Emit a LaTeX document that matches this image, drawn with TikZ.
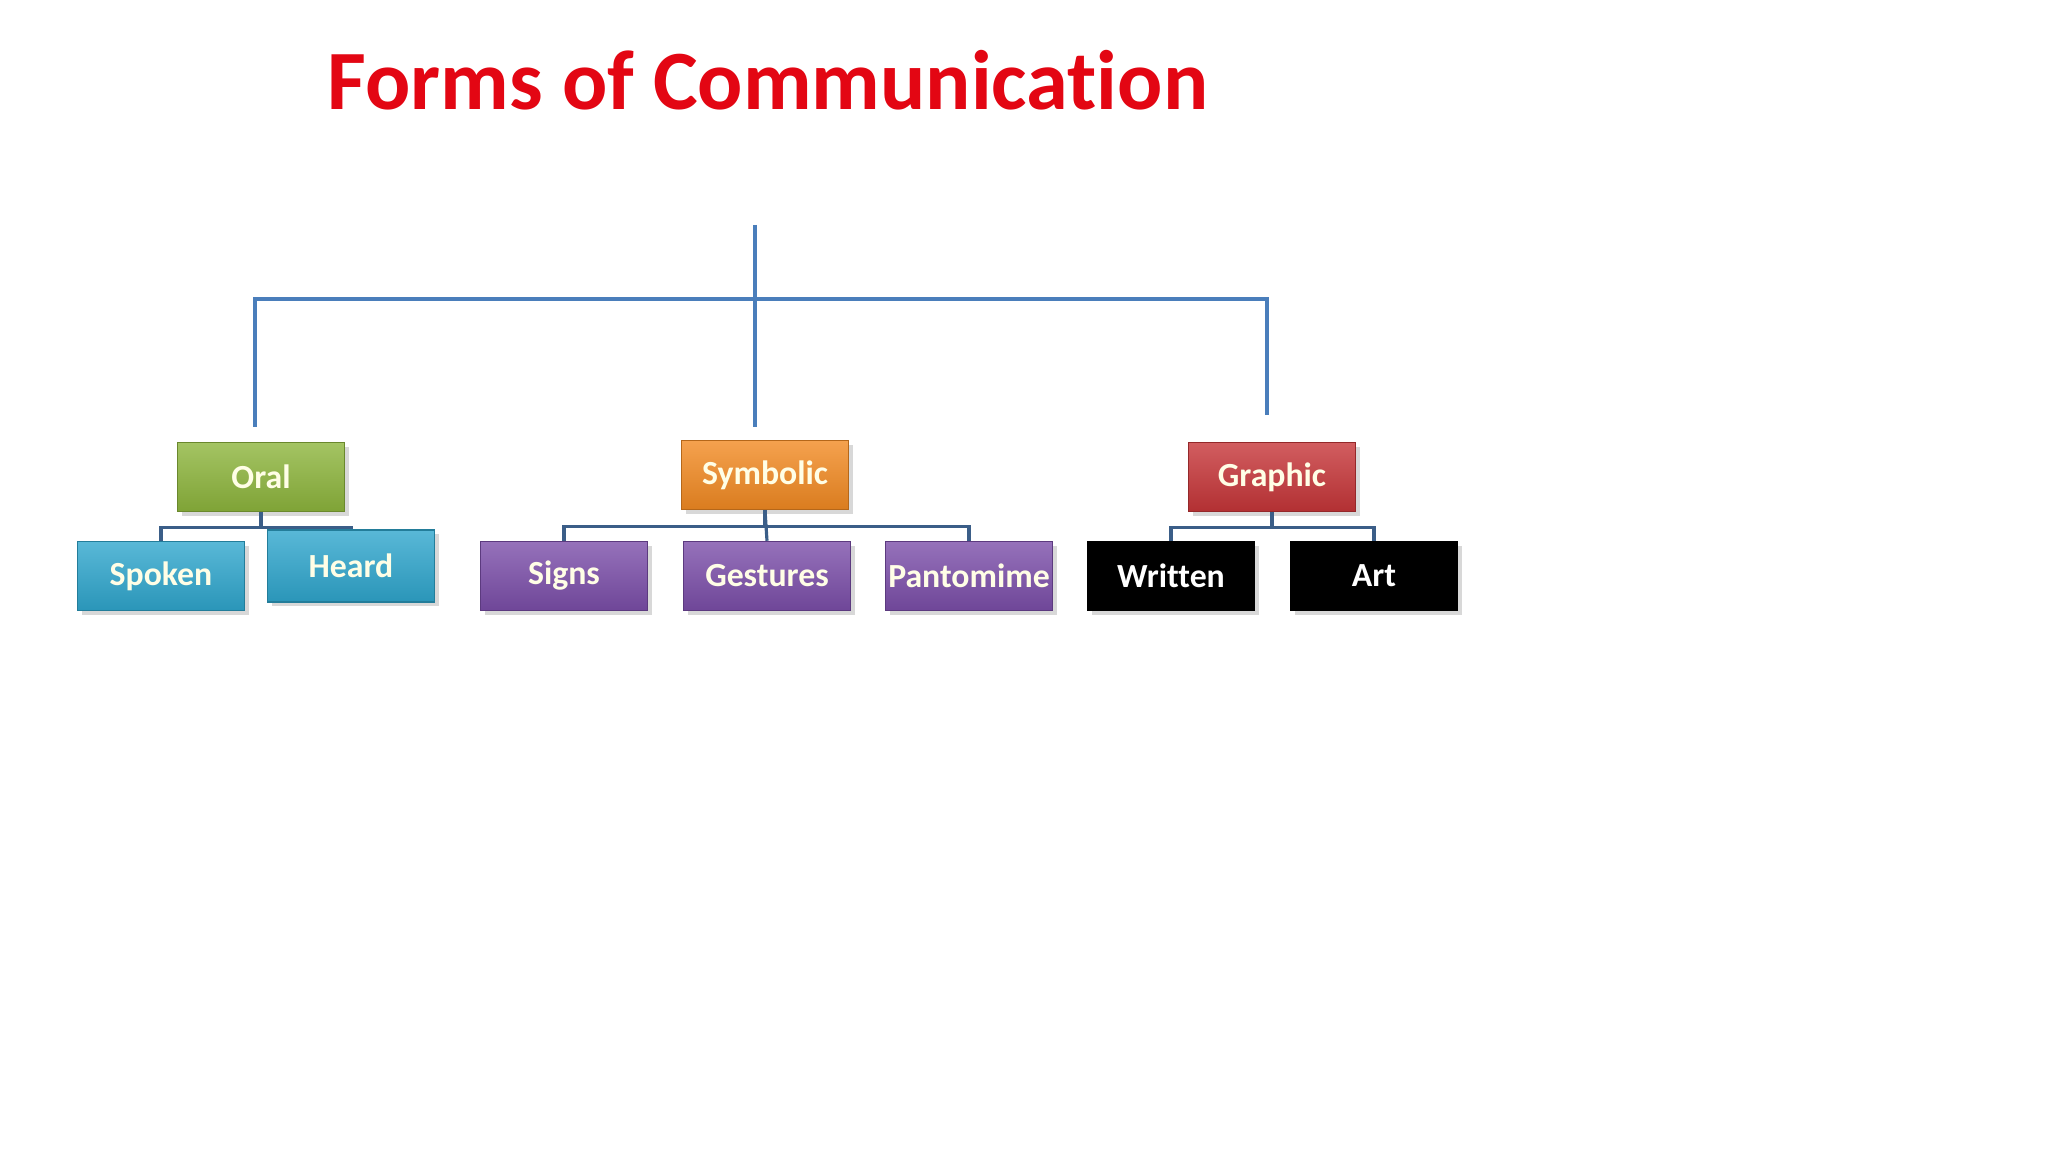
\documentclass[tikz,border=0pt]{standalone}
\usepackage{fontspec}
\setmainfont{Carlito}[Ligatures=NoCommon]
\usetikzlibrary{positioning,calc,shadows}
\definecolor{titlered}{HTML}{E30613}
\definecolor{trunkblue}{HTML}{4A7EBB}
\definecolor{twigblue}{HTML}{3B5E88}
\definecolor{oralgreen}{HTML}{8DB53C}
\definecolor{symorange}{HTML}{F28A22}
\definecolor{graphred}{HTML}{C63538}
\definecolor{heardcyan}{HTML}{2FA6CD}
\definecolor{signpurple}{HTML}{7B4EA9}
\begin{document}
\begin{tikzpicture}[x=0.01cm, y=-0.01cm, font=\bfseries,
  box/.style={minimum width=1.67cm, minimum height=0.69cm, inner sep=0pt, font=\fontsize{9.6}{12}\selectfont\bfseries, text=white!90!yellow,
    drop shadow={opacity=0.3, shadow xshift=1.2pt, shadow yshift=-1.2pt}},
  kind/.style={box, draw=#1!75!black, top color=#1!80!white, bottom color=#1!90!black},
  trunk/.style={draw=trunkblue, line width=1.3pt},
  twig/.style={draw=twigblue, line width=0.9pt}]
\useasboundingbox[fill=white] (0,0) rectangle (2048,1152);
% title
\node[text=titlered, font=\fontsize{24}{28}\selectfont\bfseries] (title) at (768,80) {Forms of Communication};
% the three forms
\node[kind=oralgreen] (oral) at (261,477) {Oral};
\node[kind=symorange] (sym) at (765,475) {Symbolic};
\node[kind=graphred] (graph) at (1272,477) {Graphic};
% what each form covers
\node[kind=heardcyan] (spoken) at (161,576) {Spoken};
\node[kind=heardcyan, minimum height=0.72cm] (heard) at (351,566) {Heard};
\node[kind=signpurple] (signs) at (564,576) {Signs};
\node[kind=signpurple] (gest) at (767,576) {Gestures};
\node[kind=signpurple] (panto) at (969,576) {Pantomime};
\node[box, draw=black, fill=black, text=white] (written) at (1171,576) {Written};
\node[box, draw=black, fill=black, text=white] (art) at (1374,576) {Art};
% top of the tree
\coordinate (root) at (755,225);
\coordinate (bar) at (755,299);
\coordinate (lend) at (255,427);
\coordinate (mend) at (755,427);
\coordinate (rend) at (1267,415);
\draw[trunk] (root) -- (mend);
\draw[trunk] (lend) |- (bar) -| (rend);
% branches under each form
\draw[twig] (oral.south) -- ++(0,15) -| (spoken.north);
\draw[twig] (oral.south) -- ++(0,15) -| (heard.north);
\draw[twig] (sym.south) -- ++(0,16) -| (signs.north);
\draw[twig] (sym.south) -- ++(0,16) -| (panto.north);
\draw[twig] (sym.south) -- (gest.north);
\draw[twig] (graph.south) -- ++(0,15) -| (written.north);
\draw[twig] (graph.south) -- ++(0,15) -| (art.north);
\end{tikzpicture}
\end{document}
